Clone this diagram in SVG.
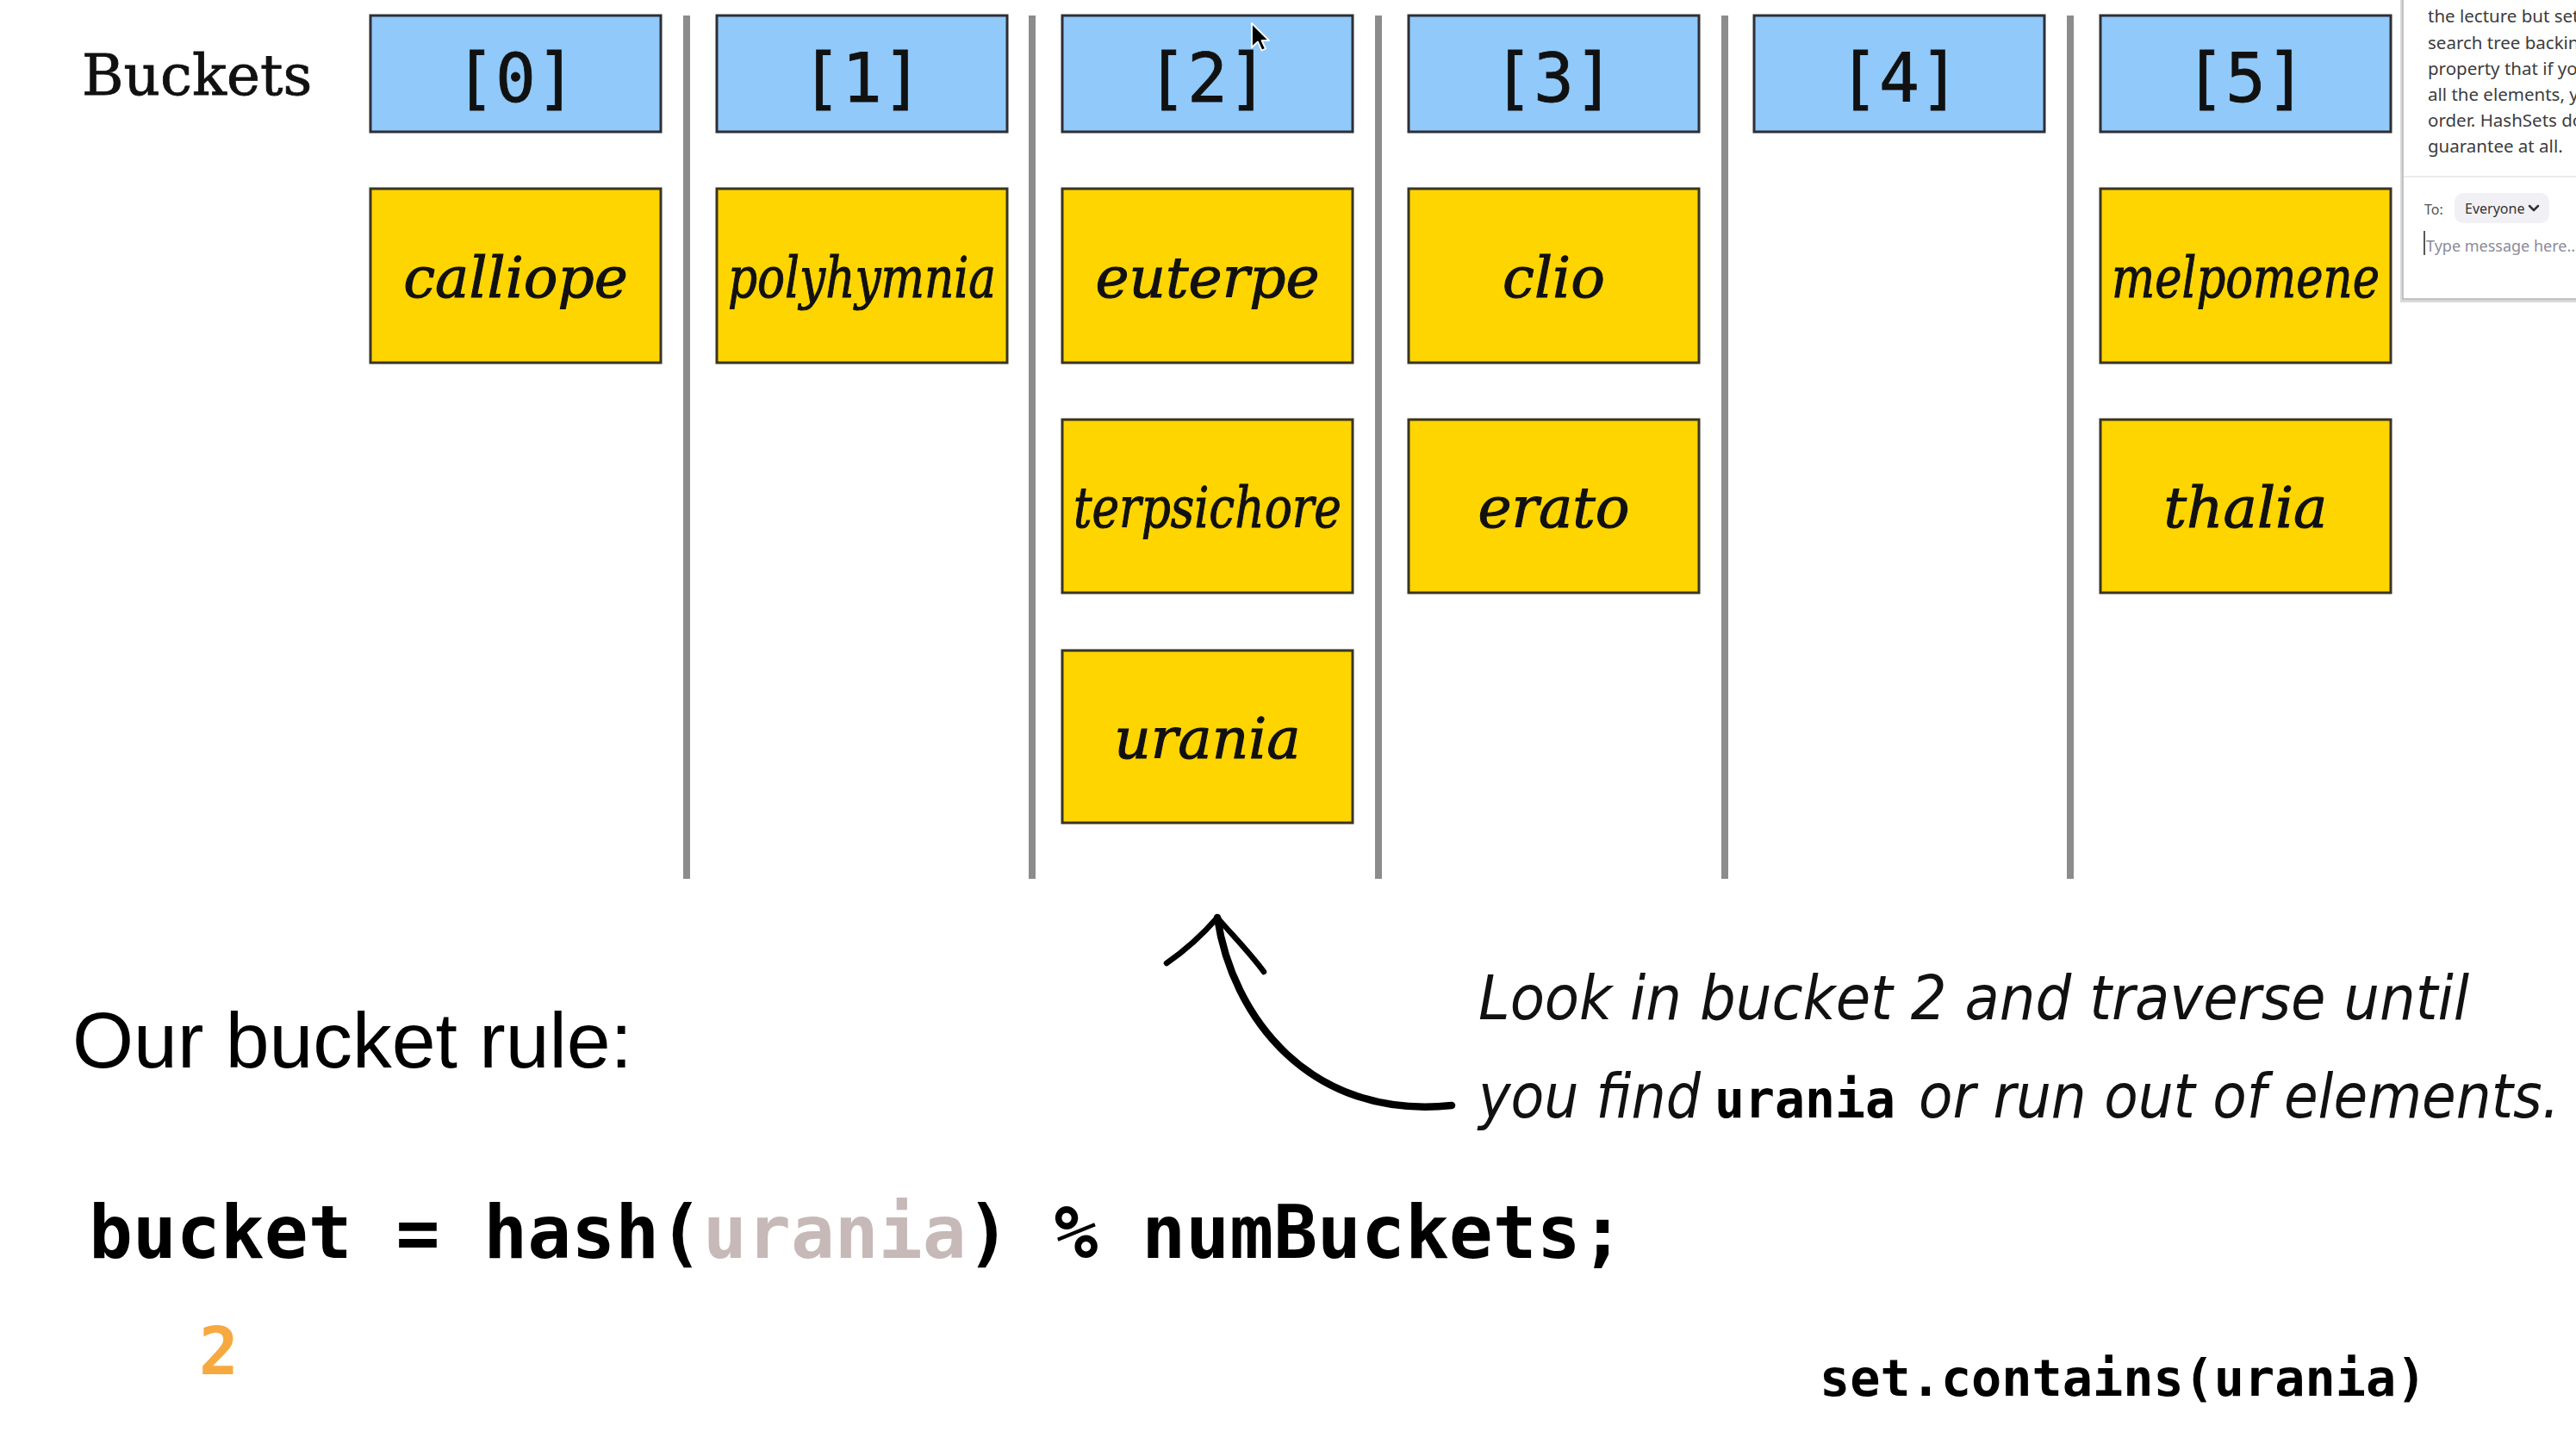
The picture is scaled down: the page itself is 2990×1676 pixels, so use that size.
<svg xmlns="http://www.w3.org/2000/svg" width="2990" height="1676" viewBox="0 0 2990 1676">
<style>
.bucket rect{fill:#90C9FA;stroke:#2e2e36;stroke-width:3}
.bucket text{font-family:"DejaVu Sans Mono",monospace;font-size:78px;fill:#111;stroke:#111;stroke-width:0.8;text-anchor:middle}
.item rect{fill:#FFD500;stroke:#3a3520;stroke-width:3}
.item text{font-family:"DejaVu Serif",serif;font-style:italic;font-size:66px;fill:#111;stroke:#111;stroke-width:1.1;text-anchor:middle}
.sep{stroke:#8c8c8c;stroke-width:8}
.code{font-family:"DejaVu Sans Mono",monospace;font-weight:bold;fill:#000}
.hand{font-family:"DejaVu Sans Condensed","DejaVu Sans",sans-serif;font-style:italic;font-size:72px;fill:#111}
.chat{font-family:"Noto Sans","Open Sans",sans-serif;font-size:20.5px;fill:#3c3c3c}
</style>
<rect x="0" y="0" width="2990" height="1676" fill="#ffffff"/>

<text id="buckets-label" x="95" y="110" font-family="DejaVu Serif,serif" font-size="66" fill="#111" stroke="#111" stroke-width="0.8">Buckets</text>

<g id="separators">
<line class="sep" x1="797" y1="18" x2="797" y2="1020"/>
<line class="sep" x1="1198" y1="18" x2="1198" y2="1020"/>
<line class="sep" x1="1600" y1="18" x2="1600" y2="1020"/>
<line class="sep" x1="2002" y1="18" x2="2002" y2="1020"/>
<line class="sep" x1="2403" y1="18" x2="2403" y2="1020"/>
</g>

<g id="bucket0" class="bucket"><rect x="430" y="18" width="337" height="135"/><text x="598.5" y="118">[0]</text></g>
<g id="bucket1" class="bucket"><rect x="832" y="18" width="337" height="135"/><text x="1000.5" y="118">[1]</text></g>
<g id="bucket2" class="bucket"><rect x="1233" y="18" width="337" height="135"/><text x="1401.5" y="118">[2]</text></g>
<g id="bucket3" class="bucket"><rect x="1635" y="18" width="337" height="135"/><text x="1803.5" y="118">[3]</text></g>
<g id="bucket4" class="bucket"><rect x="2036" y="18" width="337" height="135"/><text x="2204.5" y="118">[4]</text></g>
<g id="bucket5" class="bucket"><rect x="2438" y="18" width="337" height="135"/><text x="2606.5" y="118">[5]</text></g>

<g id="calliope" class="item"><rect x="430" y="219" width="337" height="202"/><text x="598.5" y="345">calliope</text></g>
<g id="polyhymnia" class="item"><rect x="832" y="219" width="337" height="202"/><text x="1000.5" y="345" textLength="311" lengthAdjust="spacingAndGlyphs">polyhymnia</text></g>
<g id="euterpe" class="item"><rect x="1233" y="219" width="337" height="202"/><text x="1401.5" y="345">euterpe</text></g>
<g id="terpsichore" class="item"><rect x="1233" y="487" width="337" height="201"/><text x="1401.5" y="612" textLength="311" lengthAdjust="spacingAndGlyphs">terpsichore</text></g>
<g id="urania" class="item"><rect x="1233" y="755" width="337" height="200"/><text x="1401.5" y="880">urania</text></g>
<g id="clio" class="item"><rect x="1635" y="219" width="337" height="202"/><text x="1803.5" y="345">clio</text></g>
<g id="erato" class="item"><rect x="1635" y="487" width="337" height="201"/><text x="1803.5" y="612">erato</text></g>
<g id="melpomene" class="item"><rect x="2438" y="219" width="337" height="202"/><text x="2606.5" y="345" textLength="311" lengthAdjust="spacingAndGlyphs">melpomene</text></g>
<g id="thalia" class="item"><rect x="2438" y="487" width="337" height="201"/><text x="2606.5" y="612">thalia</text></g>

<g id="connectors" fill="none" stroke="#000" stroke-linecap="round" stroke-linejoin="round">
<path d="M1685,1283 C1520,1300 1430,1180 1413,1065" stroke-width="8.5"/>
<path d="M1354,1118 C1380,1100 1400,1080 1413,1065 C1430,1085 1450,1105 1467,1128" stroke-width="6.5"/>
</g>

<g id="note">
<text class="hand" x="1716" y="1183" textLength="1150" lengthAdjust="spacingAndGlyphs">Look in bucket 2 and traverse until</text>
<text class="hand" x="1716" y="1297" textLength="258" lengthAdjust="spacingAndGlyphs">you find</text>
<text class="code" x="1990" y="1297" font-size="60" textLength="210" lengthAdjust="spacingAndGlyphs">urania</text>
<text class="hand" x="2227" y="1297" textLength="744" lengthAdjust="spacingAndGlyphs">or run out of elements.</text>
</g>

<text id="rule-title" x="84" y="1239" font-family="Liberation Sans,Arial,sans-serif" font-size="90" fill="#000" textLength="650" lengthAdjust="spacingAndGlyphs">Our bucket rule:</text>

<text id="rule-code" class="code" x="103" y="1460" font-size="84.6">bucket = hash(<tspan fill="#c6b9b8">urania</tspan>) % numBuckets;</text>

<text id="result" class="code" x="231" y="1595" font-size="76" style="fill:#F5A93F">2</text>

<text id="call" class="code" x="2112" y="1620" font-size="58.5">set.contains(urania)</text>

<g id="cursor">
<path d="M1453,27 L1453,55 L1460,48.5 L1464.5,58.5 L1469,56.5 L1464.5,47 L1473,47 Z" fill="#000" stroke="#fff" stroke-width="1.8" stroke-linejoin="round"/>
</g>

<g id="chat-panel">
<rect x="2786" y="-6" width="214" height="357" fill="#d9d9d9"/>
<rect x="2789" y="-6" width="210" height="353" fill="#ffffff" stroke="#b5b5b5" stroke-width="1.5"/>
<text class="chat" x="2818" y="26">the lecture but sets</text>
<text class="chat" x="2818" y="57">search tree backing</text>
<text class="chat" x="2818" y="87">property that if you</text>
<text class="chat" x="2818" y="117">all the elements, yo</text>
<text class="chat" x="2818" y="147">order. HashSets do</text>
<text class="chat" x="2818" y="177">guarantee at all.</text>
<line x1="2790" y1="205" x2="2990" y2="205" stroke="#e6e6e6" stroke-width="1.5"/>
<text x="2814" y="249" font-family="Noto Sans,sans-serif" font-size="16" fill="#555">To:</text>
<rect x="2849" y="224" width="110" height="35" rx="10" fill="#f1f1f5"/>
<text x="2861" y="248" font-family="Noto Sans,sans-serif" font-size="16" fill="#333">Everyone</text>
<path d="M2936,239 L2941,244 L2946,239" fill="none" stroke="#333" stroke-width="2.5" stroke-linecap="round" stroke-linejoin="round"/>
<line x1="2814" y1="268" x2="2814" y2="296" stroke="#222" stroke-width="1.5"/>
<text x="2816" y="292" font-family="Noto Sans,sans-serif" font-size="18" fill="#8b8b99">Type message here...</text>
</g>
</svg>
